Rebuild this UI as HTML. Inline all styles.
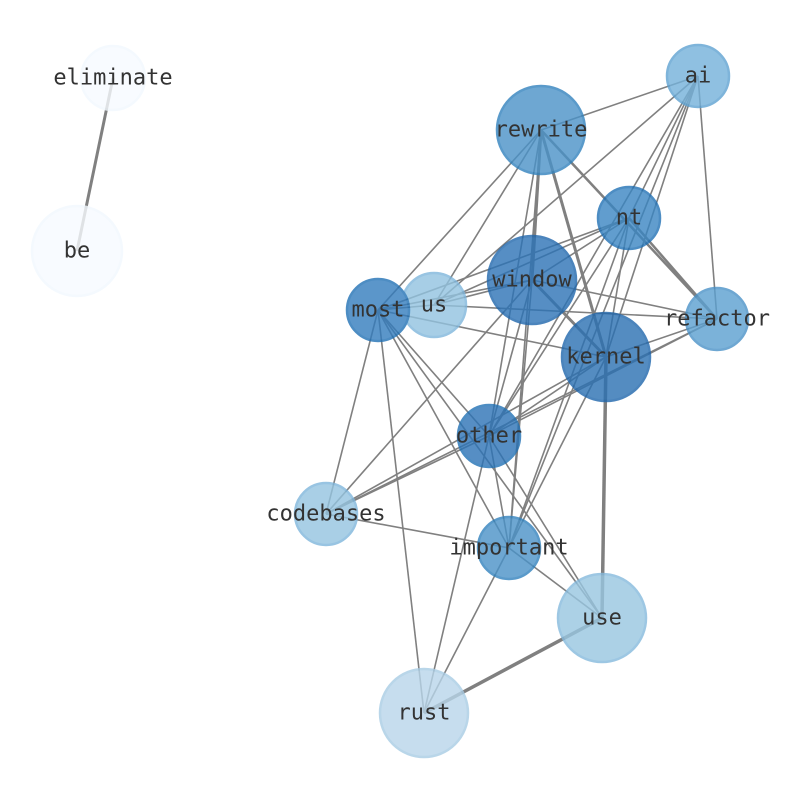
<!DOCTYPE html>
<html><head><meta charset="utf-8"><style>html,body{margin:0;padding:0;background:#fff}svg{display:block}</style></head>
<body>
<svg width="794" height="790" viewBox="0 0 794 790" xmlns="http://www.w3.org/2000/svg">
<g stroke="#808080" stroke-width="1.6" fill="none">
<line x1="113" y1="78" x2="77" y2="251" stroke-width="3"/>
<line x1="541" y1="130" x2="698" y2="76"/>
<line x1="541" y1="130" x2="378" y2="310"/>
<line x1="541" y1="130" x2="434" y2="305"/>
<line x1="541" y1="130" x2="532" y2="280" stroke-width="3"/>
<line x1="541" y1="130" x2="606" y2="357" stroke-width="3"/>
<line x1="541" y1="130" x2="717" y2="319" stroke-width="2.5"/>
<line x1="541" y1="130" x2="489" y2="436"/>
<line x1="541" y1="130" x2="509" y2="548"/>
<line x1="698" y1="76" x2="434" y2="305"/>
<line x1="698" y1="76" x2="629" y2="218"/>
<line x1="698" y1="76" x2="489" y2="436"/>
<line x1="698" y1="76" x2="606" y2="357"/>
<line x1="698" y1="76" x2="717" y2="319"/>
<line x1="698" y1="76" x2="509" y2="548"/>
<line x1="629" y1="218" x2="378" y2="310"/>
<line x1="629" y1="218" x2="434" y2="305"/>
<line x1="629" y1="218" x2="532" y2="280"/>
<line x1="629" y1="218" x2="717" y2="319" stroke-width="2.5"/>
<line x1="629" y1="218" x2="489" y2="436"/>
<line x1="629" y1="218" x2="509" y2="548"/>
<line x1="629" y1="218" x2="606" y2="357"/>
<line x1="532" y1="280" x2="378" y2="310"/>
<line x1="532" y1="280" x2="434" y2="305"/>
<line x1="532" y1="280" x2="717" y2="319"/>
<line x1="532" y1="280" x2="606" y2="357" stroke-width="3"/>
<line x1="532" y1="280" x2="489" y2="436"/>
<line x1="532" y1="280" x2="509" y2="548"/>
<line x1="532" y1="280" x2="326" y2="514"/>
<line x1="434" y1="305" x2="717" y2="319"/>
<line x1="434" y1="305" x2="378" y2="310"/>
<line x1="378" y1="310" x2="606" y2="357"/>
<line x1="378" y1="310" x2="489" y2="436"/>
<line x1="378" y1="310" x2="509" y2="548"/>
<line x1="378" y1="310" x2="602" y2="618"/>
<line x1="378" y1="310" x2="326" y2="514"/>
<line x1="378" y1="310" x2="424" y2="713"/>
<line x1="606" y1="357" x2="602" y2="618" stroke-width="3.5"/>
<line x1="606" y1="357" x2="489" y2="436"/>
<line x1="606" y1="357" x2="326" y2="514"/>
<line x1="606" y1="357" x2="509" y2="548"/>
<line x1="606" y1="357" x2="717" y2="319"/>
<line x1="717" y1="319" x2="489" y2="436"/>
<line x1="717" y1="319" x2="326" y2="514"/>
<line x1="489" y1="436" x2="326" y2="514"/>
<line x1="489" y1="436" x2="509" y2="548"/>
<line x1="489" y1="436" x2="602" y2="618"/>
<line x1="489" y1="436" x2="424" y2="713"/>
<line x1="326" y1="514" x2="509" y2="548"/>
<line x1="509" y1="548" x2="602" y2="618"/>
<line x1="509" y1="548" x2="424" y2="713"/>
<line x1="602" y1="618" x2="424" y2="713" stroke-width="3.5"/>
</g>
<g stroke-width="2.5" opacity="0.8">
<circle cx="113" cy="78" r="32" fill="#f7fbff" stroke="#f2f8fe"/>
<circle cx="77" cy="251" r="45" fill="#f7fbff" stroke="#f2f8fe"/>
<circle cx="698" cy="76" r="31" fill="#74b1da" stroke="#5ea2d2"/>
<circle cx="541" cy="130" r="44" fill="#4a92c8" stroke="#3182bd"/>
<circle cx="629" cy="218" r="31" fill="#3a85c2" stroke="#2171b5"/>
<circle cx="532" cy="280" r="44" fill="#2c73b6" stroke="#1f66ac"/>
<circle cx="434" cy="305" r="32" fill="#92c3e0" stroke="#7fb6dc"/>
<circle cx="378" cy="310" r="31" fill="#337cbd" stroke="#2171b5"/>
<circle cx="717" cy="319" r="31" fill="#5ba0d0" stroke="#4a92c8"/>
<circle cx="606" cy="357" r="44" fill="#2a70b2" stroke="#1f66ac"/>
<circle cx="489" cy="436" r="31" fill="#2c73b6" stroke="#2171b5"/>
<circle cx="326" cy="514" r="31" fill="#94c4e0" stroke="#7fb6dc"/>
<circle cx="509" cy="548" r="31" fill="#4a92c8" stroke="#3182bd"/>
<circle cx="602" cy="618" r="44" fill="#98c6e1" stroke="#85badd"/>
<circle cx="424" cy="713" r="44" fill="#b8d5ea" stroke="#a8cce4"/>
</g>
<g font-family="'DejaVu Sans Mono','Liberation Mono',monospace" font-size="22" fill="#333" text-anchor="middle" dominant-baseline="central">
<text x="113" y="78">eliminate</text>
<text x="77" y="251">be</text>
<text x="698" y="76">ai</text>
<text x="541" y="130">rewrite</text>
<text x="629" y="218">nt</text>
<text x="532" y="280">window</text>
<text x="434" y="305">us</text>
<text x="378" y="310">most</text>
<text x="717" y="319">refactor</text>
<text x="606" y="357">kernel</text>
<text x="489" y="436">other</text>
<text x="326" y="514">codebases</text>
<text x="509" y="548">important</text>
<text x="602" y="618">use</text>
<text x="424" y="713">rust</text>
</g>
</svg>
</body></html>
